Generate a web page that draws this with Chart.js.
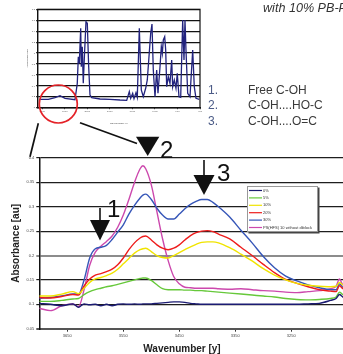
<!DOCTYPE html>
<html>
<head>
<meta charset="utf-8">
<script src="https://cdn.jsdelivr.net/npm/chart.js@4.4.1/dist/chart.umd.min.js"></script>
<style>
  html, body { margin: 0; padding: 0; background: #fff; }
  #stage { position: relative; width: 343px; height: 354px; overflow: hidden; background: #fff; }
  #stage canvas, #stage svg { position: absolute; left: 0; top: 0; }
  #notes { pointer-events: none; font-family: "Liberation Sans", Arial, sans-serif; }
</style>
</head>
<body>
<div id="stage">
  <canvas id="mainChart" width="380" height="354"></canvas>
  <canvas id="insetChart" width="210" height="125"></canvas>
  <svg id="notes" width="343" height="354">
    <text x="263" y="12" font-style="italic" font-size="12.6" fill="#333">with 10% PB-PHFS</text>
    <g font-size="12" fill="#3a3a3a">
      <text x="208" y="93.5" fill="#4b5b86">1.</text><text x="248" y="93.5">Free C-OH</text>
      <text x="208" y="109" fill="#4b5b86">2.</text><text x="248" y="109">C-OH....HO-C</text>
      <text x="208" y="124.5" fill="#4b5b86">3.</text><text x="248" y="124.5">C-OH....O=C</text>
    </g>
    <circle cx="58.3" cy="104" r="19" fill="none" stroke="#e42228" stroke-width="1.7"/>
    <line x1="38.3" y1="123.3" x2="30" y2="156.7" stroke="#111" stroke-width="1.7"/>
    <line x1="80" y1="122.7" x2="137" y2="143.5" stroke="#111" stroke-width="1.7"/>
    <!-- arrows -->
    <line x1="100" y1="208" x2="100" y2="222" stroke="#111" stroke-width="1.6"/>
    <polygon points="90,220 110,220 100,240.5" fill="#111"/>
    <polygon points="136,136.7 159.3,136.7 147.7,156" fill="#111"/>
    <line x1="204" y1="160" x2="204" y2="177" stroke="#111" stroke-width="1.6"/>
    <polygon points="193.5,175 214.5,175 204,195" fill="#111"/>
    <g font-size="24" fill="#111">
      <text x="107" y="217">1</text>
      <text x="160" y="158.3">2</text>
      <text x="217" y="181">3</text>
    </g>
    <text x="182" y="351.5" text-anchor="middle" font-weight="bold" font-size="10" fill="#222">Wavenumber [y]</text>
  </svg>
</div>
<script>
Chart.defaults.font.family = '"Liberation Sans", Arial, sans-serif';

// ---- main chart data ----
let wavenumbers = [3700, 3680, 3660, 3640, 3630, 3620, 3610, 3600, 3590, 3580, 3570, 3560, 3550, 3540, 3530, 3520, 3515, 3510, 3500, 3490, 3480, 3470, 3460, 3450, 3440, 3430, 3420, 3410, 3400, 3390, 3380, 3360, 3340, 3320, 3300, 3280, 3260, 3240, 3220, 3200, 3180, 3170, 3164, 3158, 3140, 3120, 3100];

let pct0 = [0.102, 0.100, 0.097, 0.101, 0.094, 0.101, 0.099, 0.100, 0.097, 0.100, 0.097, 0.100, 0.101, 0.100, 0.101, 0.100, 0.101, 0.101, 0.101, 0.102, 0.103, 0.104, 0.105, 0.105, 0.104, 0.102, 0.101, 0.100, 0.100, 0.100, 0.100, 0.100, 0.100, 0.100, 0.100, 0.100, 0.100, 0.100, 0.101, 0.102, 0.108, 0.112, 0.120, 0.115, 0.112, 0.111, 0.110];
let pct5 = [0.106, 0.106, 0.108, 0.111, 0.112, 0.120, 0.126, 0.130, 0.133, 0.136, 0.138, 0.141, 0.144, 0.147, 0.150, 0.153, 0.154, 0.154, 0.149, 0.140, 0.132, 0.130, 0.130, 0.130, 0.129, 0.129, 0.128, 0.128, 0.127, 0.126, 0.125, 0.123, 0.121, 0.119, 0.117, 0.115, 0.112, 0.110, 0.109, 0.110, 0.112, 0.115, 0.125, 0.120, 0.118, 0.117, 0.116];
let pct10 = [0.117, 0.117, 0.121, 0.126, 0.122, 0.133, 0.145, 0.152, 0.155, 0.159, 0.164, 0.172, 0.183, 0.194, 0.205, 0.212, 0.214, 0.215, 0.208, 0.200, 0.196, 0.195, 0.200, 0.206, 0.212, 0.218, 0.223, 0.227, 0.228, 0.228, 0.226, 0.216, 0.203, 0.189, 0.173, 0.160, 0.150, 0.143, 0.139, 0.137, 0.136, 0.137, 0.145, 0.140, 0.137, 0.136, 0.135];
let pct20 = [0.114, 0.113, 0.116, 0.120, 0.119, 0.138, 0.152, 0.160, 0.163, 0.167, 0.172, 0.181, 0.195, 0.212, 0.226, 0.236, 0.239, 0.240, 0.232, 0.222, 0.215, 0.212, 0.215, 0.222, 0.232, 0.241, 0.247, 0.250, 0.251, 0.249, 0.244, 0.234, 0.217, 0.200, 0.182, 0.165, 0.151, 0.143, 0.136, 0.130, 0.127, 0.126, 0.138, 0.132, 0.128, 0.126, 0.125];
let pct30 = [0.112, 0.114, 0.117, 0.121, 0.121, 0.150, 0.195, 0.214, 0.217, 0.221, 0.233, 0.248, 0.263, 0.285, 0.303, 0.318, 0.324, 0.326, 0.315, 0.297, 0.283, 0.275, 0.275, 0.285, 0.296, 0.305, 0.311, 0.315, 0.315, 0.309, 0.300, 0.279, 0.252, 0.226, 0.198, 0.175, 0.158, 0.148, 0.140, 0.134, 0.130, 0.130, 0.142, 0.135, 0.130, 0.128, 0.127];
let psNoDiblock = [0.092, 0.087, 0.097, 0.101, 0.095, 0.130, 0.180, 0.207, 0.219, 0.229, 0.240, 0.258, 0.283, 0.315, 0.350, 0.378, 0.384, 0.378, 0.345, 0.290, 0.235, 0.190, 0.157, 0.142, 0.135, 0.134, 0.133, 0.133, 0.133, 0.133, 0.132, 0.131, 0.132, 0.130, 0.128, 0.127, 0.125, 0.124, 0.126, 0.128, 0.132, 0.137, 0.152, 0.140, 0.135, 0.133, 0.132];

let seriesLabels = ['0%', '5%', '10%', '20%', '30%', 'PS(HFS) 10 without diblock'];
let seriesColors = ['#1b1b72', '#66c83a', '#f0e400', '#ee1c1c', '#3656b8', '#cc48ad'];
let xTickValues = [3650, 3550, 3450, 3350, 3250, 3150];
let yTickValues = [0.05, 0.1, 0.15, 0.2, 0.25, 0.3, 0.35, 0.4];

// ---- inset (full spectrum) ----
let insetWavenumbers = [3965, 3765, 3616, 3505, 3394, 3173, 3122, 3099, 3077, 3046, 3033, 3011, 2989, 2966, 2929, 2900, 2869, 2840, 2802, 2618, 2396, 2175, 2026, 1968, 1937, 1893, 1864, 1820, 1791, 1746, 1702, 1658, 1605, 1569, 1494, 1465, 1436, 1398, 1361, 1332, 1287, 1258, 1236, 1214, 1183, 1161, 1139, 1103, 1066, 1028, 1006, 970, 933, 904, 866, 828, 784, 755, 733, 711, 673, 622, 562, 527, 489, 416];
let insetAbsorbance = [0.154, 0.154, 0.183, 0.220, 0.172, 0.146, 0.446, 0.933, 0.812, 1.452, 0.750, 1.116, 0.446, 0.904, 1.573, 1.544, 0.750, 0.232, 0.183, 0.159, 0.154, 0.141, 0.135, 0.293, 0.172, 0.263, 0.165, 0.274, 0.190, 1.452, 0.324, 0.201, 0.355, 0.507, 1.360, 1.531, 0.690, 0.201, 0.690, 0.263, 0.750, 1.116, 0.995, 1.238, 1.299, 1.055, 0.384, 0.567, 0.446, 0.873, 0.384, 0.507, 0.355, 0.629, 0.201, 0.190, 1.604, 0.873, 1.604, 1.055, 0.263, 0.201, 1.055, 0.384, 0.172, 0.154];
let insetXTicks = [3900, 3400, 2900, 2400, 1900, 1400, 900, 400];
let insetYTicks = [0, 0.2, 0.4, 0.6, 0.8, 1, 1.2, 1.4, 1.6, 1.8];

function pairs(xs, ys) {
    return xs.map((x, i) => ({ x: x, y: ys[i] }));
}
function isTick(ctx, v) {
    return ctx.tick && Math.abs(ctx.tick.value - v) < 1e-6;
}

// legend box drawn inside the plot, like the original
const boxLegend = {
    id: 'boxLegend',
    afterDatasetsDraw(chart) {
        let ctx = chart.ctx;
        let x = 247, y = 186, w = 71, h = 46;
        ctx.save();
        ctx.fillStyle = '#444';
        ctx.fillRect(x + 1.5, y + 1.5, w, h);
        ctx.fillStyle = '#fff';
        ctx.fillRect(x, y, w, h);
        ctx.strokeStyle = '#999';
        ctx.lineWidth = 1;
        ctx.strokeRect(x + 0.5, y + 0.5, w - 1, h - 1);
        ctx.font = '4px "Liberation Sans", Arial, sans-serif';
        ctx.textBaseline = 'middle';
        chart.data.datasets.forEach((ds, i) => {
            let ly = y + 4.5 + i * 7.4;
            ctx.strokeStyle = ds.borderColor;
            ctx.lineWidth = 1.2;
            ctx.beginPath();
            ctx.moveTo(x + 2, ly);
            ctx.lineTo(x + 15, ly);
            ctx.stroke();
            ctx.fillStyle = '#333';
            ctx.fillText(ds.label, x + 16, ly);
        });
        ctx.restore();
    }
};

let mainData = [pct0, pct5, pct10, pct20, pct30, psNoDiblock];

new Chart(document.getElementById('mainChart'), {
    type: 'line',
    data: {
        datasets: mainData.map((vals, i) => ({
            label: seriesLabels[i],
            data: pairs(wavenumbers, vals),
            borderColor: seriesColors[i],
            borderWidth: 1.4,
            pointRadius: 0,
            fill: false,
            cubicInterpolationMode: 'monotone'
        }))
    },
    options: {
        responsive: false,
        animation: false,
        devicePixelRatio: 1,
        layout: { padding: { top: 158, right: 4.7, left: 0, bottom: 0 } },
        plugins: { legend: { display: false }, tooltip: { enabled: false } },
        scales: {
            x: {
                type: 'linear',
                min: 3100,
                max: 3700,
                reverse: true,
                afterBuildTicks: axis => { axis.ticks = xTickValues.map(v => ({ value: v })); },
                afterFit: axis => { axis.height = 25.3; },
                grid: { drawOnChartArea: false, color: '#333', tickLength: 3 },
                border: { color: '#555', width: 2 },
                ticks: { font: { size: 4 }, color: '#444', padding: 2, maxRotation: 0, callback: v => String(v) }
            },
            y: {
                min: 0.05,
                max: 0.4,
                afterBuildTicks: axis => { axis.ticks = yTickValues.map(v => ({ value: v })); },
                afterFit: axis => { axis.width = 39.3; },
                grid: {
                    color: ctx => isTick(ctx, 0.2) ? '#8c8c8c' : (isTick(ctx, 0.05) ? '#555' : '#1e1e1e'),
                    lineWidth: ctx => (isTick(ctx, 0.2) || isTick(ctx, 0.05)) ? 2 : 1.2,
                    tickLength: 3
                },
                border: { color: '#111', width: 1.5 },
                ticks: { font: { size: 4 }, color: '#444', padding: 2, callback: v => String(Number(v.toFixed(2))) },
                title: { display: true, text: 'Absorbance [au]', font: { size: 10, weight: 'bold' }, color: '#222', padding: { top: 10, bottom: 0 } }
            }
        }
    },
    plugins: [boxLegend]
});

// frame around the inset plot
const insetFrame = {
    id: 'insetFrame',
    afterDraw(chart) {
        let a = chart.chartArea;
        let ctx = chart.ctx;
        ctx.save();
        ctx.strokeStyle = '#111';
        ctx.lineWidth = 1.2;
        ctx.strokeRect(a.left, a.top, a.right - a.left, a.bottom - a.top);
        ctx.restore();
    }
};

new Chart(document.getElementById('insetChart'), {
    type: 'line',
    data: {
        datasets: [{
            label: 'spectrum',
            data: pairs(insetWavenumbers, insetAbsorbance),
            borderColor: '#22237e',
            borderWidth: 1.3,
            pointRadius: 0,
            tension: 0
        }]
    },
    options: {
        responsive: false,
        animation: false,
        devicePixelRatio: 1,
        layout: { padding: { top: 9.3, right: 10, left: 0, bottom: 0 } },
        plugins: { legend: { display: false }, tooltip: { enabled: false } },
        scales: {
            x: {
                type: 'linear',
                min: 400,
                max: 4000,
                reverse: true,
                afterBuildTicks: axis => { axis.ticks = insetXTicks.map(v => ({ value: v })); },
                afterFit: axis => { axis.height = 17.3; },
                grid: { drawOnChartArea: false, color: '#333', tickLength: 1.5 },
                border: { color: '#111', width: 1.2 },
                ticks: { font: { size: 2.5 }, color: '#555', padding: 1, maxRotation: 0, callback: v => String(v) },
                title: { display: true, text: 'wavenumber [y]', font: { size: 2.5 }, color: '#444', padding: { top: 2, bottom: 0 } }
            },
            y: {
                min: 0,
                max: 1.8,
                afterBuildTicks: axis => { axis.ticks = insetYTicks.map(v => ({ value: v })); },
                afterFit: axis => { axis.width = 37.7; },
                grid: { color: '#111', lineWidth: 1.2, tickLength: 1.5 },
                border: { color: '#111', width: 1.2 },
                ticks: { font: { size: 2.5 }, color: '#555', padding: 1, callback: v => String(Number(v.toFixed(1))) },
                title: { display: true, text: 'Absorbance [au]', font: { size: 2.5 }, color: '#444', padding: { top: 26, bottom: 0 } }
            }
        }
    },
    plugins: [insetFrame]
});
</script>
</body>
</html>
